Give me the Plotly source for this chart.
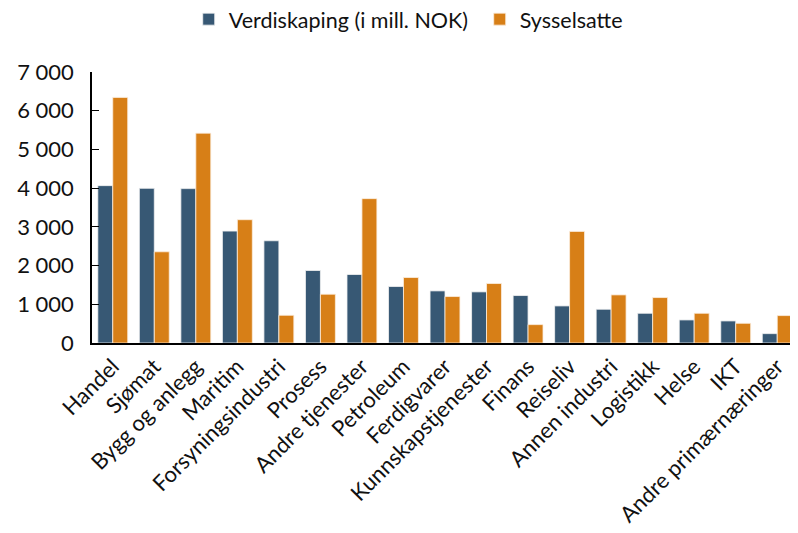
import plotly.graph_objects as go

# Næringer og verdier (lest av figuren)
naeringer = [
    "Handel", "Sjømat", "Bygg og anlegg", "Maritim", "Forsyningsindustri",
    "Prosess", "Andre tjenester", "Petroleum", "Ferdigvarer",
    "Kunnskapstjenester", "Finans", "Reiseliv", "Annen industri",
    "Logistikk", "Helse", "IKT", "Andre primærnæringer",
]
verdiskaping = [4065, 3996, 3988, 2891, 2641, 1873, 1769, 1459, 1346,
                1321, 1226, 958, 872, 768, 596, 570, 242]
sysselsatte = [6344, 2356, 5420, 3185, 716, 1260, 3729, 1692, 1200,
               1536, 475, 2883, 1243, 1174, 768, 509, 708]

BLA = "#375874"
ORANSJE = "#D77F17"
FONT = "Lato"

fig = go.Figure()
fig.add_trace(go.Bar(
    x=naeringer, y=verdiskaping, name="Verdiskaping (i mill. NOK)",
    marker=dict(color=BLA, line=dict(color="#f3f3f3", width=0.8)),
))
fig.add_trace(go.Bar(
    x=naeringer, y=sysselsatte, name="Sysselsatte",
    marker=dict(color=ORANSJE, line=dict(color="#fbeede", width=0.8)),
))

# siden får 8 px marg i nettleseren, så figuren gjøres tilsvarende mindre
fig.update_layout(
    width=790, height=525,
    margin=dict(l=84, r=0, t=64, b=190, autoexpand=False),
    paper_bgcolor="white", plot_bgcolor="white",
    barmode="group", bargap=0.28, bargroupgap=0,
    separators=", ",
    font=dict(family=FONT, color="#111111"),
    legend=dict(
        orientation="h", x=0.137, xanchor="left", y=1.195, yanchor="middle",
        entrywidth=246, entrywidthmode="pixels",
        font=dict(size=21.5, family=FONT), traceorder="normal",
    ),
    showlegend=True,
)
fig.update_yaxes(
    range=[0, 7000], dtick=1000, tickformat=",d", automargin=False,
    showgrid=False, zeroline=False,
    showline=True, linecolor="black", linewidth=1.5,
    ticks="inside", ticklen=7, tickcolor="black", tickwidth=1.2,
    ticklabelstandoff=12,
    tickfont=dict(size=22, family=FONT),
)
fig.update_xaxes(
    showline=True, linecolor="black", linewidth=2, automargin=False,
    ticks="", tickangle=-45, showgrid=False,
    tickfont=dict(size=22, family=FONT),
)

fig.write_html("out.html")
